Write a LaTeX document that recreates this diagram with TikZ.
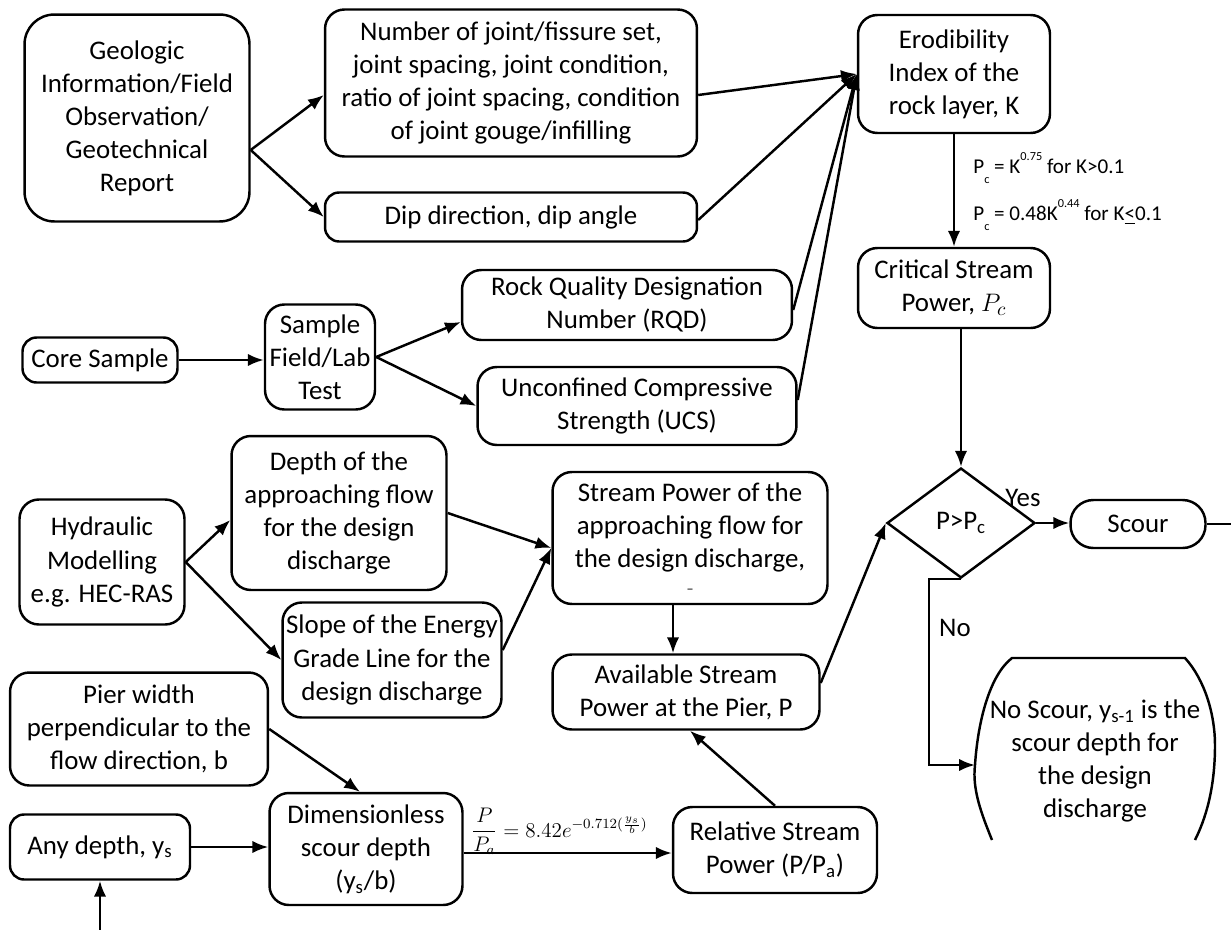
\documentclass[tikz,border=0pt]{standalone}
\usepackage{fontspec}
\setmainfont{Carlito}
\usetikzlibrary{shapes.geometric, arrows.meta}
\newcommand{\boxfont}{\fontsize{15.3}{18.8}\selectfont}
\newcommand{\notefont}{\fontsize{12}{14}\selectfont}
\tikzset{
  block/.style={rectangle, draw=black, fill=white, align=center,
    rounded corners=11pt, line width=1.4pt, inner sep=2pt},
  decision/.style={diamond, draw=black, fill=white, line width=1.4pt,
    inner sep=0pt, minimum width=2.96cm, minimum height=2.2cm},
  pill/.style={rectangle, draw=black, fill=white, line width=1.4pt,
    rounded corners=13pt, minimum width=2.7cm, minimum height=0.96cm},
  arrow/.style={-{Latex[length=9pt,width=7pt]}, line width=1.4pt},
  line/.style={line width=1.4pt},
  note/.style={font=\notefont, anchor=west, inner sep=0pt}
}
\begin{document}
\begin{tikzpicture}[x=0.02cm, y=-0.02cm, font=\boxfont]
  \useasboundingbox (0,0) rectangle (1231,930);
  % Rock side
  \node[block, minimum width=4.5cm, minimum height=4.14cm, rounded corners=17pt] (geo) at (137,118)
    {Geologic\\Information/Field\\Observation/\\Geotechnical\\Report};
  \node[block, minimum width=7.44cm, minimum height=2.94cm] (joint) at (511,83)
    {Number of joint/fissure set,\\joint spacing, joint condition,\\ratio of joint spacing, condition\\of joint gouge/infilling};
  \node[block, minimum width=7.44cm, minimum height=0.98cm, rounded corners=8pt] (dip) at (511,217)
    {Dip direction, dip angle};
  \node[block, minimum width=3.1cm, minimum height=0.9cm, rounded corners=8pt] (core) at (100,360)
    {Core Sample};
  \node[block, minimum width=2.2cm, minimum height=2.1cm] (test) at (320,357)
    {Sample\\Field/Lab\\Test};
  \node[block, minimum width=6.6cm, minimum height=1.4cm] (rqd) at (627,305)
    {Rock Quality Designation\\Number (RQD)};
  \node[block, minimum width=6.38cm, minimum height=1.56cm] (ucs) at (637,406)
    {Unconfined Compressive\\Strength (UCS)};
  \node[block, minimum width=3.84cm, minimum height=2.36cm] (erod) at (954,74)
    {Erodibility\\Index of the\\rock layer, K};
  \node[block, minimum width=3.84cm, minimum height=1.6cm] (crit) at (954,288)
    {Critical Stream\\Power, $P_c$};
  \node[note] (pcone) at (973,168)
    {P\raisebox{-1ex}{\scriptsize c} = K\raisebox{1.3ex}{\scriptsize 0.75} for K>0.1};
  \node[note] (pctwo) at (973,215)
    {P\raisebox{-1ex}{\scriptsize c} = 0.48K\raisebox{1.3ex}{\scriptsize 0.44} for K\underline{<}0.1};

  % Flow side
  \node[block, minimum width=3.3cm, minimum height=2.5cm] (hyd) at (102,562)
    {Hydraulic\\Modelling\\e.g. HEC-RAS};
  \node[block, minimum width=4.3cm, minimum height=3.08cm] (depth) at (339,513)
    {Depth of the\\approaching flow\\for the design\\discharge};
  \node[block, minimum width=4.38cm, minimum height=2.3cm] (slope) at (392,660)
    {Slope of the Energy\\Grade Line for the\\design discharge};
  \node[block, minimum width=5.5cm, minimum height=2.64cm] (spow) at (690,538)
    {Stream Power of the\\approaching flow for\\the design discharge,\\[-4pt]{\footnotesize --}};
  \node[block, minimum width=5.34cm, minimum height=1.5cm] (avail) at (686,692)
    {Available Stream\\Power at the Pier, P};
  \node[block, minimum width=5.16cm, minimum height=2.26cm] (pier) at (139,729)
    {Pier width\\perpendicular to the\\flow direction, b};
  \node[block, minimum width=3.6cm, minimum height=1.3cm, rounded corners=8pt] (anyd) at (100,847)
    {Any depth, y\textsubscript{s}};
  \node[block, minimum width=3.86cm, minimum height=2.24cm] (dimless) at (366,849)
    {Dimensionless\\scour depth\\(y\textsubscript{s}/b)};
  \node[block, minimum width=4.08cm, minimum height=1.72cm] (rel) at (775,850)
    {Relative Stream\\Power (P/P\textsubscript{a})};

  % Check and result
  \node[decision] (dec) at (961,523) {P>P\textsubscript{c}};
  \node[pill] (scour) at (1138,524) {Scour};
  \node[align=center] (nosc) at (1095,761)
    {No Scour, y\textsubscript{s-1} is the\\scour depth for\\the design\\discharge};
  \draw[line] (992,840) .. controls (982,815) and (972,790) .. (975,765)
    .. controls (978,720) and (990,675) .. (1012,658) -- (1185,658)
    .. controls (1205,680) and (1215,715) .. (1215,745)
    .. controls (1215,790) and (1205,820) .. (1195,840);
  \coordinate (nosw) at (975,765);
  \coordinate (out) at (1231,524);
  \coordinate (start) at (100,930);

  % Connectors
  \draw[arrow] ([yshift=-0.64cm]geo.east) -- ([yshift=-0.24cm]joint.west);
  \draw[arrow] ([yshift=-0.64cm]geo.east) -- (dip.west);
  \draw[arrow] ([yshift=-0.24cm]joint.east) -- (erod.west);
  \draw[arrow] ([yshift=-0.06cm]dip.east) -- (erod.west);
  \draw[arrow] ([yshift=-0.1cm]rqd.east) -- (erod.west);
  \draw[arrow] ([yshift=0.12cm]ucs.east) -- (erod.west);
  \draw[arrow] (core.east) -- (core.east -| test.west);
  \draw[arrow] (test.east) -- ([yshift=-0.34cm]rqd.west);
  \draw[arrow] (test.east) -- (ucs.west);
  \draw[arrow] (erod.south) -- (crit.north);
  \draw[arrow] (dec.north |- crit.south) -- (dec.north);
  \draw[arrow] (dec.east) -- (dec.east -| scour.west);
  \draw[line] (scour.east) -- (out);
  \draw[arrow] (dec.south) -- ++(-32,0) |- (nosw);
  \node at (1023,498) {Yes};
  \node at (955,628) {No};
  \draw[arrow] (hyd.east) -- ([yshift=-0.14cm]depth.west);
  \draw[arrow] (hyd.east) -- (slope.west);
  \draw[arrow] (depth.east) -- ([yshift=-0.2cm]spow.west);
  \draw[arrow] ([yshift=0.2cm]slope.east) -- ([yshift=-0.2cm]spow.west);
  \draw[arrow] ([xshift=-0.34cm]spow.south) -- ([xshift=-0.34cm]spow.south |- avail.north);
  \draw[arrow] ([yshift=0.18cm]avail.east) -- (dec.west);
  \draw[arrow] (rel.north) -- ([xshift=0.08cm]avail.south);
  \draw[arrow] (pier.east) -- ([xshift=-0.12cm]dimless.north);
  \draw[arrow] (anyd.east) -- (anyd.east -| dimless.west);
  \draw[arrow] (start) -- (anyd.south);
  \draw[arrow] ([yshift=-0.08cm]dimless.east) -- ([yshift=-0.08cm]dimless.east -| rel.west)
    node[pos=0.46, above=-5pt, font=\fontsize{12}{14}\selectfont] {$\displaystyle\frac{P}{P_a}=8.42e^{-0.712(\frac{y_s}{b})}$};
\end{tikzpicture}
\end{document}
